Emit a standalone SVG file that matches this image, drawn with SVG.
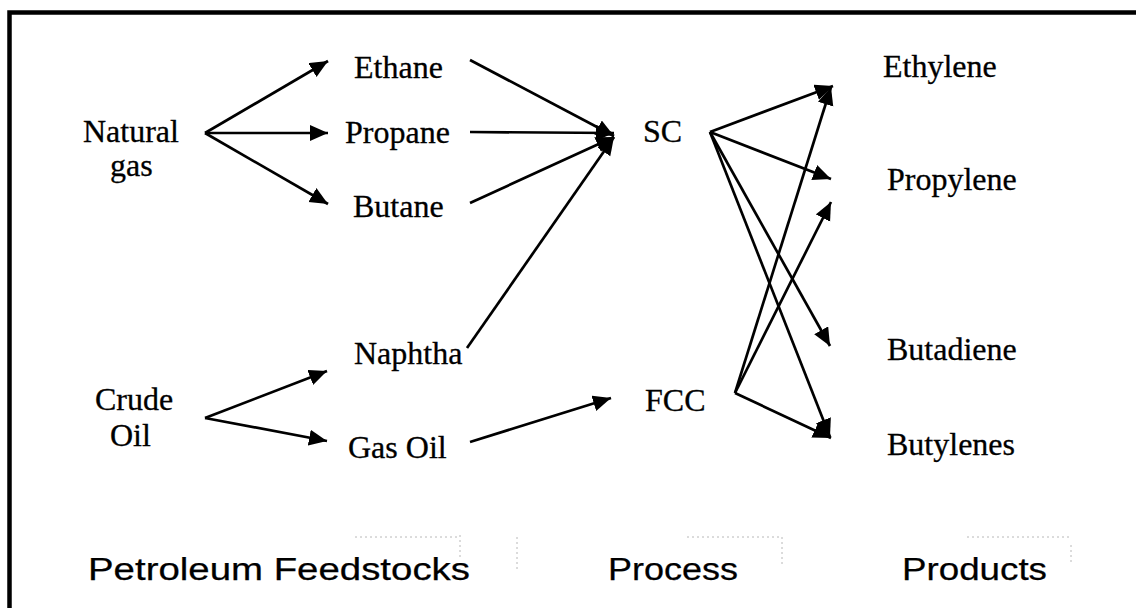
<svg xmlns="http://www.w3.org/2000/svg" width="1136" height="608" viewBox="0 0 1136 608">
  <style>
    .lbl { font-family: "Liberation Serif", "Times New Roman", serif; font-size: 32px; fill: #000; stroke: #000; stroke-width: 0.3; }
    .head { font-family: "Liberation Sans", Arial, sans-serif; font-size: 31px; fill: #000; stroke: #000; stroke-width: 0.25; }
    .edge { stroke: #000; stroke-width: 2.7; fill: none; marker-end: url(#arr); }
    .guide { stroke: #b8b8b8; stroke-width: 1; stroke-dasharray: 2 3; fill: none; }
  </style>
  <defs>
    <marker id="arr" markerUnits="userSpaceOnUse" markerWidth="20" markerHeight="18" refX="18" refY="8" orient="auto">
      <path d="M0,0 L18,8 L0,16 Z" fill="#000"/>
    </marker>
  </defs>

  <rect width="1136" height="608" fill="#fff"/>

  <!-- frame (left and top rules) -->
  <path d="M9.5,608 V12.5 H1136" stroke="#000" stroke-width="4.5" fill="none"/>

  <!-- faint text-box outlines around the column headings -->
  <g id="guides">
    <path class="guide" d="M355,537 H457 M460,535 V560"/>
    <path class="guide" d="M517,537 V572 M687,537 H780 M782,537 V566"/>
    <path class="guide" d="M967,537 H1070 M1071,545 V562"/>
  </g>

  <g id="connectors">
    <!-- Natural gas fan-out -->
    <line class="edge" x1="205" y1="133" x2="328" y2="61"/>
    <line class="edge" x1="205" y1="133" x2="328" y2="133"/>
    <line class="edge" x1="205" y1="133" x2="328" y2="204"/>
    <!-- Crude oil fan-out -->
    <line class="edge" x1="205" y1="418" x2="327" y2="371"/>
    <line class="edge" x1="205" y1="418" x2="327" y2="441"/>
    <!-- feeds to steam cracker -->
    <line class="edge" x1="470" y1="60" x2="614" y2="136"/>
    <line class="edge" x1="470" y1="132" x2="614" y2="133"/>
    <line class="edge" x1="470" y1="203" x2="614" y2="137"/>
    <line class="edge" x1="467" y1="348" x2="614" y2="137"/>
    <!-- gas oil to FCC -->
    <line class="edge" x1="470" y1="442" x2="611" y2="398"/>
    <!-- SC products -->
    <line class="edge" x1="710" y1="132" x2="833" y2="86"/>
    <line class="edge" x1="710" y1="132" x2="831" y2="179"/>
    <line class="edge" x1="710" y1="132" x2="830" y2="346"/>
    <line class="edge" x1="710" y1="132" x2="830" y2="437"/>
    <!-- FCC products -->
    <line class="edge" x1="735" y1="393" x2="831" y2="87"/>
    <line class="edge" x1="735" y1="393" x2="831" y2="202"/>
    <line class="edge" x1="735" y1="393" x2="831" y2="438"/>
  </g>

  <g id="natural-gas"><text class="lbl" x="83" y="142">Natural</text><text class="lbl" x="110" y="176">gas</text></g>
  <g id="crude-oil"><text class="lbl" x="95" y="410">Crude</text><text class="lbl" x="110" y="446">Oil</text></g>
  <g id="ethane"><text class="lbl" x="354" y="78">Ethane</text></g>
  <g id="propane"><text class="lbl" x="345" y="143">Propane</text></g>
  <g id="butane"><text class="lbl" x="353" y="217">Butane</text></g>
  <g id="naphtha"><text class="lbl" x="354" y="364">Naphtha</text></g>
  <g id="gas-oil"><text class="lbl" x="348" y="458">Gas Oil</text></g>
  <g id="sc"><text class="lbl" x="643" y="142">SC</text></g>
  <g id="fcc"><text class="lbl" x="645" y="411">FCC</text></g>
  <g id="ethylene"><text class="lbl" x="883" y="77">Ethylene</text></g>
  <g id="propylene"><text class="lbl" x="887" y="190">Propylene</text></g>
  <g id="butadiene"><text class="lbl" x="887" y="360">Butadiene</text></g>
  <g id="butylenes"><text class="lbl" x="887" y="455">Butylenes</text></g>

  <g id="headings">
    <text class="head" x="88" y="580" textLength="382" lengthAdjust="spacingAndGlyphs">Petroleum Feedstocks</text>
    <text class="head" x="608" y="580" textLength="130" lengthAdjust="spacingAndGlyphs">Process</text>
    <text class="head" x="902" y="580" textLength="145" lengthAdjust="spacingAndGlyphs">Products</text>
  </g>
</svg>
